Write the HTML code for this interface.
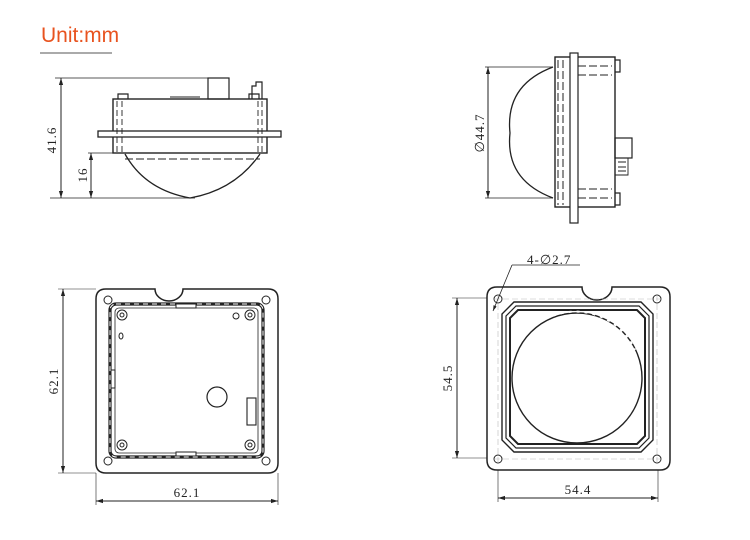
<!DOCTYPE html>
<html><head><meta charset="utf-8"><style>
html,body{margin:0;padding:0;background:#fff;width:750px;height:540px;overflow:hidden}
svg{display:block}
text{font-family:"Liberation Serif",serif;font-size:13px;letter-spacing:1px;fill:#222}
</style></head><body>
<svg width="750" height="540" viewBox="0 0 750 540" xmlns="http://www.w3.org/2000/svg">
<defs>
<marker id="a" viewBox="0 0 10 10" refX="10" refY="5" markerWidth="7" markerHeight="7" orient="auto-start-reverse"><path d="M0,2 L10,5 L0,8 z" fill="#222"/></marker>
</defs>
<text x="41" y="42" style="font-family:'Liberation Sans',sans-serif;font-size:21px;letter-spacing:0;fill:#e8531f">Unit:mm</text>
<line x1="40" y1="53" x2="112" y2="53" stroke="#777" stroke-width="1.2"/>

<g stroke="#222" fill="none" stroke-width="1">
<!-- View 1 -->
<line x1="55" y1="78" x2="210" y2="78" stroke-width="0.7"/>
<line x1="50" y1="198" x2="195" y2="198" stroke-width="0.7"/>
<line x1="61" y1="78" x2="61" y2="198" marker-start="url(#a)" marker-end="url(#a)"/>
<line x1="88" y1="153" x2="113" y2="153" stroke-width="0.7"/>
<line x1="91" y1="153" x2="91" y2="198" marker-start="url(#a)" marker-end="url(#a)"/>
<rect x="113" y="99" width="154" height="54" stroke-width="1.4"/>
<rect x="98" y="131" width="183" height="6" fill="#fff" stroke-width="1.3"/>
<rect x="208" y="78" width="21" height="21" stroke-width="1.2"/>
<path d="M252,99 V86 H256 V82 H262 V99" stroke-width="1.2"/>
<path d="M118,99 v-5 h10 v5 M249,99 v-5 h10 v5" stroke-width="1.2"/>
<line x1="170" y1="97" x2="200" y2="97"/>
<path d="M122,101 V152 M258,101 V152 M117,101 V152 M262,101 V152" stroke-dasharray="6,3" stroke-width="0.9"/>
<path d="M125,154 Q145,190 190,198 Q235,190 260,154" stroke-width="1.3"/>
<line x1="125" y1="159" x2="260" y2="159" stroke-dasharray="8,3" stroke-width="1"/>

<!-- View 2 -->
<line x1="485" y1="67" x2="553" y2="67" stroke-width="0.7"/>
<line x1="485" y1="198" x2="553" y2="198" stroke-width="0.7"/>
<line x1="488" y1="67" x2="488" y2="198" marker-start="url(#a)" marker-end="url(#a)"/>
<path d="M553,67 Q505,85 510,133 Q505,180 553,198" stroke-width="1.3"/>
<rect x="555" y="57" width="60" height="150" stroke-width="1.4"/>
<rect x="570" y="53" width="8" height="170" fill="#fff" stroke-width="1.2"/>
<path d="M615,60 h5 v12 h-5 M615,193 h5 v12 h-5" stroke-width="1.2"/>
<rect x="615" y="138" width="17" height="20" stroke-width="1.2"/>
<path d="M615,158 h13 v17 h-13 M618,162 h8 M618,167 h8 M618,171 h8" stroke-width="0.9"/>
<path d="M578,66 H612 M578,75 H612 M578,198 H612 M578,189 H612 M558,60 V205 M563,60 V205" stroke-dasharray="8,3" stroke-width="1"/>

<!-- View 3 -->
<path d="M106,289 H155 A14,12 0 0 0 183,289 H268 Q278,289 278,299 V463 Q278,473 268,473 H106 Q96,473 96,463 V299 Q96,289 106,289 Z" stroke-width="1.5"/>
<circle cx="108" cy="300" r="4"/><circle cx="266" cy="300" r="4"/>
<circle cx="108" cy="461" r="4"/><circle cx="266" cy="461" r="4"/>
<rect x="110" y="304" width="153" height="153" rx="6" stroke-width="3.2"/>
<rect x="110" y="304" width="153" height="153" rx="6" stroke="#fff" stroke-width="1" stroke-dasharray="5,4"/>
<rect x="115" y="308" width="143" height="145" rx="4" stroke-width="0.8"/>
<circle cx="122" cy="315" r="5"/><circle cx="250" cy="315" r="5"/>
<circle cx="122" cy="445" r="5"/><circle cx="250" cy="445" r="5"/>
<circle cx="122" cy="315" r="2"/><circle cx="250" cy="315" r="2"/>
<circle cx="122" cy="445" r="2"/><circle cx="250" cy="445" r="2"/>
<circle cx="217" cy="397" r="10" stroke-width="1.2"/>
<circle cx="236" cy="316" r="3"/>
<ellipse cx="121" cy="336" rx="2" ry="3"/>
<rect x="176" y="304" width="20" height="4" fill="#fff"/>
<rect x="176" y="452" width="20" height="4" fill="#fff"/>
<rect x="111" y="370" width="4" height="18" fill="#fff"/>
<rect x="247" y="398" width="9" height="27" stroke-width="1.1"/>
<line x1="63" y1="289" x2="63" y2="473" marker-start="url(#a)" marker-end="url(#a)"/>
<line x1="58" y1="289" x2="96" y2="289" stroke-width="0.6"/>
<line x1="58" y1="473" x2="96" y2="473" stroke-width="0.6"/>
<line x1="96" y1="473" x2="96" y2="505" stroke-width="0.6"/>
<line x1="278" y1="473" x2="278" y2="505" stroke-width="0.6"/>
<line x1="96" y1="501" x2="278" y2="501" marker-start="url(#a)" marker-end="url(#a)"/>

<!-- View 4 -->
<path d="M497,287 H582 A15,13 0 0 0 612,287 H660 Q670,287 670,297 V460 Q670,470 660,470 H497 Q487,470 487,460 V297 Q487,287 497,287 Z" stroke-width="1.5"/>
<circle cx="498" cy="299" r="4"/><circle cx="657" cy="299" r="4"/>
<circle cx="498" cy="459" r="4"/><circle cx="657" cy="459" r="4"/>
<path d="M494,299 H662 M494,459 H662 M498,295 V463 M657,295 V463" stroke="#bbb" stroke-width="0.6" stroke-dasharray="6,3"/>
<path d="M514,302 H641 L653,314 V440 L641,452 H514 L502,440 V314 Z" stroke-width="1.4"/>
<path d="M516,306 H639 L649,316 V438 L639,448 H516 L506,438 V316 Z" stroke-width="1.2"/>
<path d="M518,310 H637 L645,318 V436 L637,444 H518 L510,436 V318 Z" stroke-width="2"/>
<circle cx="577" cy="378" r="65" stroke-width="1.4"/>
<path d="M522,340 A65,65 0 0 1 635,350" stroke="#fff" stroke-width="2" stroke-dasharray="3,5"/>
<line x1="457" y1="298" x2="457" y2="458" marker-start="url(#a)" marker-end="url(#a)"/>
<line x1="452" y1="298" x2="487" y2="298" stroke-width="0.6"/>
<line x1="452" y1="458" x2="487" y2="458" stroke-width="0.6"/>
<line x1="498" y1="470" x2="498" y2="502" stroke-width="0.6"/>
<line x1="658" y1="470" x2="658" y2="502" stroke-width="0.6"/>
<line x1="498" y1="498" x2="658" y2="498" marker-start="url(#a)" marker-end="url(#a)"/>
<path d="M512,265 H580" stroke-width="0.8"/>
<line x1="512" y1="265" x2="493" y2="311" stroke-width="0.8" marker-end="url(#a)"/>
</g>

<text transform="translate(56,140) rotate(-90)" text-anchor="middle">41.6</text>
<text transform="translate(87,175) rotate(-90)" text-anchor="middle">16</text>
<text transform="translate(484,133) rotate(-90)" text-anchor="middle">∅44.7</text>
<text transform="translate(58,381) rotate(-90)" text-anchor="middle">62.1</text>
<text x="187" y="497" text-anchor="middle">62.1</text>
<text transform="translate(452,378) rotate(-90)" text-anchor="middle">54.5</text>
<text x="578" y="494" text-anchor="middle">54.4</text>
<text x="527" y="264">4-∅2.7</text>
</svg>
</body></html>
